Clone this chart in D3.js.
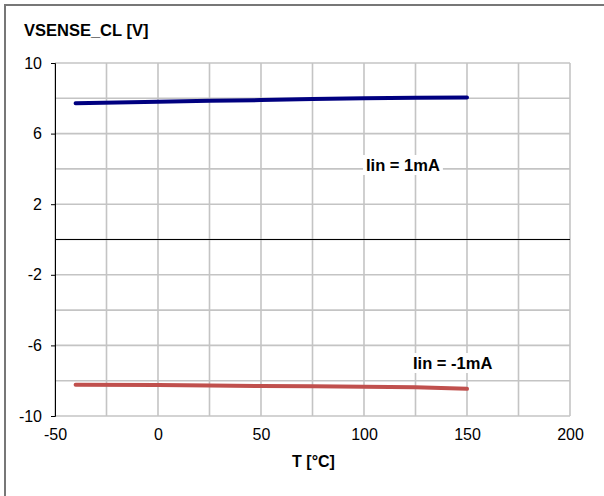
<!DOCTYPE html>
<html>
<head>
  <meta charset="UTF-8">
  <style>
    body { margin: 0; background: #fff; }
    svg { display: block; font-family: "Liberation Sans", Arial, sans-serif; }
  </style>
</head>
<body>
<svg></svg>
<script src="https://d3js.org/d3.v7.min.js"></script>
<script>

let width = 604, height = 496;

// data
let temps = [-40, 0, 25, 50, 75, 100, 125, 150];
let vPos = [7.72, 7.81, 7.86, 7.90, 7.96, 8.00, 8.03, 8.05];
let vNeg = [-8.23, -8.24, -8.27, -8.30, -8.32, -8.34, -8.37, -8.46];
let xTicks = [-50, 0, 50, 100, 150, 200];
let yTicks = [-10, -6, -2, 2, 6, 10];

let svg = d3.select("svg")
    .attr("width", width)
    .attr("height", height);

let x = d3.scaleLinear().domain([-50, 200]).range([55, 570]);
let y = d3.scaleLinear().domain([-10, 10]).range([416, 63]);

// outer frame (only top and left visible)
svg.append("path")
.attr("d", "M5," + (height + 5) + "V5H" + (width + 5))
.attr("fill", "none")
.attr("stroke", "#777")
.attr("stroke-width", 2);

// grid
svg.append("g")
.selectAll("line")
.data(d3.range(-50, 201, 25))
.enter()
.append("line")
.attr("x1", d => x(d)).attr("x2", d => x(d))
.attr("y1", y(10)).attr("y2", y(-10))
.attr("stroke", "#c4c4c4")
.attr("stroke-width", 1.6);

svg.append("g")
.selectAll("line")
.data(d3.range(-10, 11, 2))
.enter()
.append("line")
.attr("x1", x(-50)).attr("x2", x(200))
.attr("y1", d => y(d)).attr("y2", d => y(d))
.attr("stroke", "#c4c4c4")
.attr("stroke-width", 1.6);

// zero line
svg.append("line")
.attr("x1", x(-50)).attr("x2", x(200))
.attr("y1", y(0)).attr("y2", y(0))
.attr("stroke", "#000")
.attr("stroke-width", 1);

// y axis
let yAxis = d3.axisLeft(y)
.tickValues(yTicks)
.tickSize(4)
.tickPadding(9)
.tickFormat(d => String(d));

let gy = svg.append("g")
.attr("transform", "translate(" + x(-50) + ",0)")
.call(yAxis);
gy.select(".domain").attr("stroke", "#000");
gy.selectAll("text")
.attr("font-size", "16px")
.attr("font-family", "Liberation Sans, Arial, sans-serif")
.attr("fill", "#000");

// x axis labels
let xAxis = d3.axisBottom(x)
.tickValues(xTicks)
.tickSize(0)
.tickPadding(13)
.tickFormat(d => String(d));

let gx = svg.append("g")
.attr("transform", "translate(0," + y(-10) + ")")
.call(xAxis);
gx.select(".domain").remove();
gx.selectAll("text")
.attr("font-size", "16px")
.attr("font-family", "Liberation Sans, Arial, sans-serif")
.attr("fill", "#000");

// series
let line = d3.line()
.x((d, i) => x(temps[i]))
.y(d => y(d));

svg.append("path")
.datum(vPos)
.attr("d", line)
.attr("fill", "none")
.attr("stroke", "#000080")
.attr("stroke-width", 4)
.attr("stroke-linecap", "round");

svg.append("path")
.datum(vNeg)
.attr("d", line)
.attr("fill", "none")
.attr("stroke", "#c0504d")
.attr("stroke-width", 4)
.attr("stroke-linecap", "round");

// series labels with white background
function label(tx, ty, txt) {
    let g = svg.append("g");
    let t = g.append("text")
    .attr("x", tx).attr("y", ty)
    .attr("font-size", "16.5px")
    .attr("font-weight", "bold")
    .text(txt);
    let b = t.node().getBBox();
    g.insert("rect", "text")
    .attr("x", b.x - 3).attr("y", b.y - 1)
    .attr("width", b.width + 6).attr("height", b.height + 2)
    .attr("fill", "#fff");
}
label(366, 171, "Iin = 1mA");
label(413, 369, "Iin = -1mA");

// titles
svg.append("text")
.attr("x", 24).attr("y", 36)
.attr("font-size", "16.5px")
.attr("font-weight", "bold")
.text("VSENSE_CL [V]");

svg.append("text")
.attr("x", (x(-50) + x(200)) / 2 + 1).attr("y", 467)
.attr("text-anchor", "middle")
.attr("font-size", "16px")
.attr("font-weight", "bold")
.text("T [°C]");

</script>
</body>
</html>
